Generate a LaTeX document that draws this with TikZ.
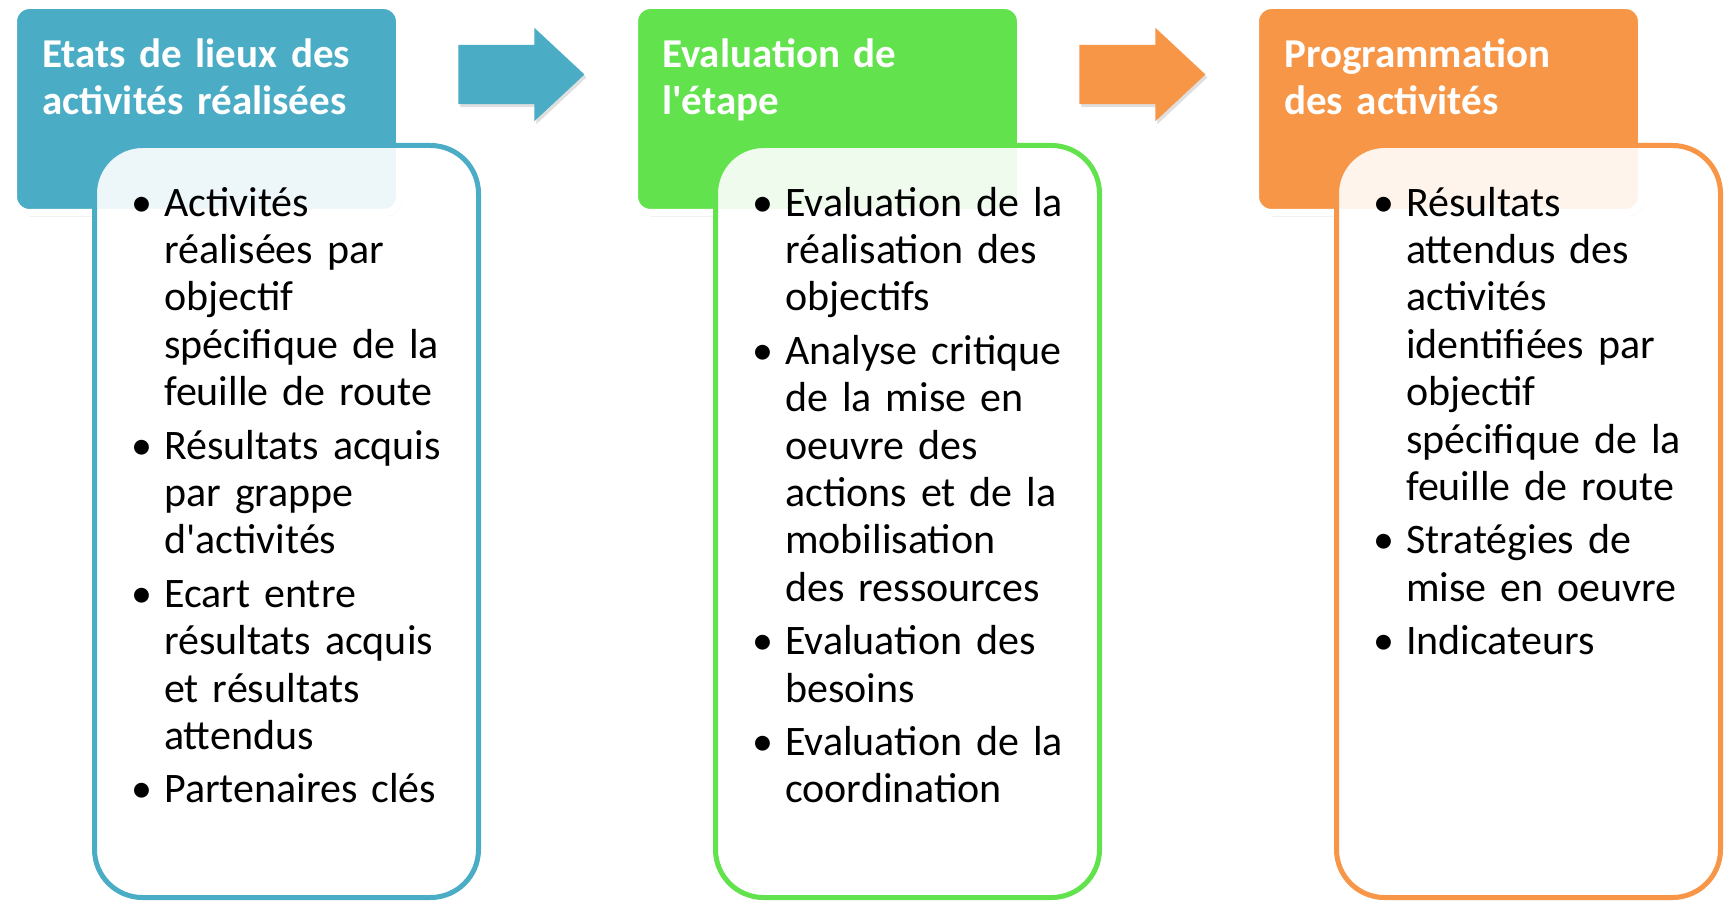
\documentclass[tikz,border=0pt]{standalone}
\usepackage{fontspec}
\setmainfont{Carlito}[Ligatures=TeXOff]
\usetikzlibrary{shapes.arrows,shadows}

\definecolor{stepblue}{HTML}{4BACC6}
\definecolor{stepgreen}{HTML}{62E24C}
\definecolor{steporange}{HTML}{F79646}

\newcommand{\bitem}{\par\noindent\hangindent=33pt\hangafter=1\makebox[33pt][l]{\strut\textbullet}}

\begin{document}
\begin{tikzpicture}[x=1pt,y=-1pt,
  header/.style={rectangle,rounded corners=16pt,draw=white,line width=7pt,
    minimum width=386pt,minimum height=207pt,inner sep=0pt,
    drop shadow={shadow xshift=3pt,shadow yshift=-4pt,opacity=.3}},
  panel/.style={rectangle,rounded corners=48pt,line width=5pt,fill=white,
    fill opacity=.9,minimum width=384pt,minimum height=752pt,inner sep=0pt},
  steparrow/.style={single arrow,minimum height=126pt,minimum width=93pt,
    single arrow head extend=17pt,single arrow tip angle=86,
    inner xsep=0pt,inner ysep=29.5pt,
    drop shadow={shadow xshift=2pt,shadow yshift=-3pt,opacity=.25}},
  headtext/.style={anchor=north west,inner sep=0pt,text width=360pt,align=left,
    text=white,font=\bfseries\fontsize{41}{47.4}\selectfont},
  listtext/.style={anchor=north west,inner sep=0pt,text width=340pt,align=left,
    font=\fontsize{42}{47.4}\selectfont}]
\useasboundingbox (0,0) rectangle (1727,901);
\fill[white] (0,0) rectangle (1727,901);

%step 1
\node[header,fill=stepblue] (head1) at (206.5,109) {};
\node[headtext] (head1-text) at (42,33.8) {\strut Etats de lieux des\\activités réalisées};
\node[panel,draw=stepblue] (panel1) at (286.5,521.5) {};
\node[listtext] (list1) at (131,162.6) {\setlength{\parskip}{6pt}%
\bitem Activités\newline réalisées par\newline objectif\newline spécifique de la\newline feuille de route
\bitem Résultats acquis\newline par grappe\newline d'activités
\bitem Ecart entre\newline résultats acquis\newline et résultats\newline attendus
\bitem Partenaires clés\par};

%arrow 1
\node[steparrow,fill=stepblue] (arrow1) at (505.5,74.5) {};

%step 2
\node[header,fill=stepgreen] (head2) at (827.5,109) {};
\node[headtext] (head2-text) at (662,33.8) {\strut Evaluation de\\l'étape};
\node[panel,draw=stepgreen] (panel2) at (907.5,521.5) {};
\node[listtext] (list2) at (752,162.6) {\setlength{\parskip}{6pt}%
\bitem Evaluation de la\newline réalisation des\newline objectifs
\bitem Analyse critique\newline de la mise en\newline oeuvre des\newline actions et de la\newline mobilisation\newline des ressources
\bitem Evaluation des\newline besoins
\bitem Evaluation de la\newline coordination\par};

%arrow 2
\node[steparrow,fill=steporange] (arrow2) at (1126.5,74.5) {};

%step 3
\node[header,fill=steporange] (head3) at (1448.5,109) {};
\node[headtext] (head3-text) at (1284,33.8) {\strut Programmation\\des activités};
\node[panel,draw=steporange] (panel3) at (1528.5,521.5) {};
\node[listtext] (list3) at (1373,162.6) {\setlength{\parskip}{6pt}%
\bitem Résultats\newline attendus des\newline activités\newline identifiées par\newline objectif\newline spécifique de la\newline feuille de route
\bitem Stratégies de\newline mise en oeuvre
\bitem Indicateurs\par};
\end{tikzpicture}
\end{document}
